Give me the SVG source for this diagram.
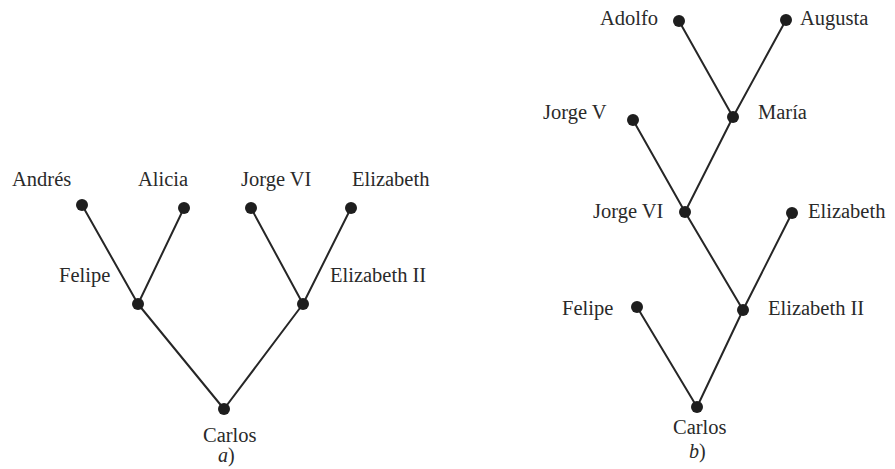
<svg xmlns="http://www.w3.org/2000/svg" width="895" height="469" viewBox="0 0 895 469">
  <style>
    .edge { stroke: #262626; stroke-width: 2; fill: none; stroke-linecap: round; }
    .dot { fill: #1e1e1e; }
    .lbl { font-family: "Liberation Serif", "Times New Roman", serif; font-size: 20.5px; fill: #2a2a2a; }
    .cap { font-family: "Liberation Serif", "Times New Roman", serif; font-size: 20px; fill: #2a2a2a; }
  </style>
  <rect width="895" height="469" fill="#ffffff"/>

  <!-- tree a -->
  <g id="edges-a">
    <line class="edge" x1="82" y1="205" x2="138" y2="304"/>
    <line class="edge" x1="184" y1="208" x2="138" y2="304"/>
    <line class="edge" x1="251" y1="208" x2="303" y2="304"/>
    <line class="edge" x1="351" y1="208" x2="303" y2="304"/>
    <line class="edge" x1="138" y1="304" x2="224" y2="409"/>
    <line class="edge" x1="303" y1="304" x2="224" y2="409"/>
  </g>
  <g id="a-andres"><circle class="dot" cx="82" cy="205" r="6"/><text class="lbl" x="12" y="186">Andrés</text></g>
  <g id="a-alicia"><circle class="dot" cx="184" cy="208" r="6"/><text class="lbl" x="138" y="186">Alicia</text></g>
  <g id="a-jorge6"><circle class="dot" cx="251" cy="208" r="6"/><text class="lbl" x="241" y="186">Jorge VI</text></g>
  <g id="a-elizabeth"><circle class="dot" cx="351" cy="208" r="6"/><text class="lbl" x="352" y="186">Elizabeth</text></g>
  <g id="a-felipe"><circle class="dot" cx="138" cy="304" r="6"/><text class="lbl" x="59" y="282">Felipe</text></g>
  <g id="a-elizabeth2"><circle class="dot" cx="303" cy="304" r="6"/><text class="lbl" x="330" y="282">Elizabeth II</text></g>
  <g id="a-carlos"><circle class="dot" cx="224" cy="409" r="6"/><text class="lbl" x="203" y="442">Carlos</text></g>
  <text class="cap" x="218" y="462"><tspan font-style="italic">a</tspan>)</text>

  <!-- tree b -->
  <g id="edges-b">
    <line class="edge" x1="679" y1="21" x2="733" y2="117"/>
    <line class="edge" x1="786" y1="20" x2="733" y2="117"/>
    <line class="edge" x1="733" y1="117" x2="685" y2="212"/>
    <line class="edge" x1="633" y1="120" x2="685" y2="212"/>
    <line class="edge" x1="685" y1="212" x2="743" y2="310"/>
    <line class="edge" x1="792" y1="213" x2="743" y2="310"/>
    <line class="edge" x1="743" y1="310" x2="697" y2="407"/>
    <line class="edge" x1="637" y1="307" x2="697" y2="407"/>
  </g>
  <g id="b-adolfo"><circle class="dot" cx="679" cy="21" r="6"/><text class="lbl" x="600" y="25">Adolfo</text></g>
  <g id="b-augusta"><circle class="dot" cx="786" cy="20" r="6"/><text class="lbl" x="800" y="25">Augusta</text></g>
  <g id="b-maria"><circle class="dot" cx="733" cy="117" r="6"/><text class="lbl" x="758" y="119">María</text></g>
  <g id="b-jorge5"><circle class="dot" cx="633" cy="120" r="6"/><text class="lbl" x="543" y="119">Jorge V</text></g>
  <g id="b-jorge6"><circle class="dot" cx="685" cy="212" r="6"/><text class="lbl" x="593" y="218">Jorge VI</text></g>
  <g id="b-elizabeth"><circle class="dot" cx="792" cy="213" r="6"/><text class="lbl" x="808" y="218">Elizabeth</text></g>
  <g id="b-felipe"><circle class="dot" cx="637" cy="307" r="6"/><text class="lbl" x="562" y="315">Felipe</text></g>
  <g id="b-elizabeth2"><circle class="dot" cx="743" cy="310" r="6"/><text class="lbl" x="768" y="315">Elizabeth II</text></g>
  <g id="b-carlos"><circle class="dot" cx="697" cy="407" r="6"/><text class="lbl" x="673" y="434">Carlos</text></g>
  <text class="cap" x="689" y="458"><tspan font-style="italic">b</tspan>)</text>
</svg>
